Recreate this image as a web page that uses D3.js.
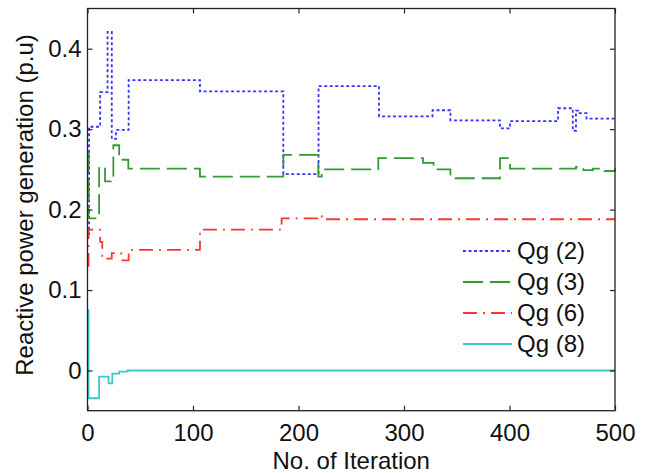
<!DOCTYPE html>
<html>
<head>
<meta charset="utf-8">
<script src="https://cdn.jsdelivr.net/npm/d3@7"></script>
<style>
  html, body { margin: 0; padding: 0; background: #fff; }
  svg { display: block; }
  text { font-family: "Liberation Sans", Arial, sans-serif; fill: #111; }
</style>
</head>
<body>
<svg id="chart" width="648" height="473"></svg>
<script>
// ---- data ----
const seriesNames = ["Qg (2)", "Qg (3)", "Qg (6)", "Qg (8)"];

const qg2Iter = [0, 1.5, 12, 19, 23, 27, 39, 106.6, 185.6, 219, 276.3, 327, 344, 391, 400.5, 446, 460, 463, 465, 473, 500];
const qg2Val  = [0.17, 0.303, 0.346, 0.421, 0.288, 0.299, 0.361, 0.347, 0.244, 0.3535, 0.316, 0.3235, 0.311, 0.301, 0.310, 0.326, 0.298, 0.323, 0.320, 0.313, 0.313];

const qg3Iter = [0, 1, 11, 16.6, 22, 24.5, 30, 38.7, 106.6, 185.6, 218.8, 222, 275.6, 318, 328, 344, 391, 400.5, 463, 470, 479, 490, 500];
const qg3Val  = [0.27, 0.189, 0.253, 0.235, 0.241, 0.280, 0.262, 0.251, 0.241, 0.268, 0.241, 0.250, 0.264, 0.258, 0.250, 0.239, 0.264, 0.251, 0.253, 0.249, 0.251, 0.248, 0.251];

const qg6Iter = [0, 1, 12, 14, 23, 32, 39, 106.6, 184, 218, 222, 500];
const qg6Val  = [0.13, 0.175, 0.160, 0.139, 0.146, 0.137, 0.150, 0.175, 0.189, 0.192, 0.188, 0.188];

const qg8Iter = [0, 1, 11, 20, 23.5, 30, 38, 500];
const qg8Val  = [0.075, -0.0345, -0.0077, -0.016, -0.004, -0.0015, 0.0, 0.0];

const xTicks = [0, 100, 200, 300, 400, 500];
const yTicks = [0, 0.1, 0.2, 0.3, 0.4];
const yTickLabels = ["0", "0.1", "0.2", "0.3", "0.4"];

const xTitle = "No. of Iteration";
const yTitle = "Reactive power generation (p.u)";

// ---- layout / style ----
const mLeft = 87.5, mRight = 615, mTop = 8.5, mBottom = 410.7;
const styles = [
  { color: "#3535ff", dash: "3,2.5", width: 1.8 },
  { color: "#359a35", dash: "20,7",  width: 1.8 },
  { color: "#ff3535", dash: "14,6,2,6", width: 1.8 },
  { color: "#3cc8c8", dash: null,   width: 1.8 }
];

const svg = d3.select("#chart");
const x = d3.scaleLinear().domain([0, 500]).range([mLeft, mRight]);
const y = d3.scaleLinear().domain([-0.05, 0.45]).range([mBottom, mTop]);

const series = [
  { name: seriesNames[0], it: qg2Iter, v: qg2Val },
  { name: seriesNames[1], it: qg3Iter, v: qg3Val },
  { name: seriesNames[2], it: qg6Iter, v: qg6Val },
  { name: seriesNames[3], it: qg8Iter, v: qg8Val }
];

const line = d3.line().x(d => x(d[0])).y(d => y(d[1])).curve(d3.curveStepAfter);

const plot = svg.append("g");
series.forEach((s, i) => {
  const pts = s.it.map((t, j) => [t, s.v[j]]);
  plot.append("path")
    .datum(pts)
    .attr("d", line)
    .attr("fill", "none")
    .attr("stroke", styles[i].color)
    .attr("stroke-width", styles[i].width)
    .attr("stroke-dasharray", styles[i].dash)
    .attr("stroke-linejoin", "miter");
});

// ---- axes (inward ticks on all four sides) ----
const tickLen = 5;
const fmtY = d => yTickLabels[yTicks.indexOf(d)];

const gB = svg.append("g").attr("transform", `translate(0,${mBottom})`)
  .call(d3.axisBottom(x).tickValues(xTicks).tickSize(-tickLen).tickPadding(13).tickFormat(d3.format("d")));
const gT = svg.append("g").attr("transform", `translate(0,${mTop})`)
  .call(d3.axisTop(x).tickValues(xTicks).tickSize(-tickLen).tickFormat(""));
const gL = svg.append("g").attr("transform", `translate(${mLeft},0)`)
  .call(d3.axisLeft(y).tickValues(yTicks).tickSize(-tickLen).tickPadding(6).tickFormat(fmtY));
const gR = svg.append("g").attr("transform", `translate(${mRight},0)`)
  .call(d3.axisRight(y).tickValues(yTicks).tickSize(-tickLen).tickFormat(""));

[gB, gT, gL, gR].forEach(g => {
  g.select(".domain").remove();
  g.selectAll(".tick line").attr("stroke", "#222").attr("stroke-width", 1.2);
  g.selectAll("text").attr("font-size", 24).attr("font-family", "Liberation Sans, Arial, sans-serif").attr("fill", "#111");
});

// box
svg.append("rect")
  .attr("x", mLeft).attr("y", mTop)
  .attr("width", mRight - mLeft).attr("height", mBottom - mTop)
  .attr("fill", "none").attr("stroke", "#222").attr("stroke-width", 1.3);

// titles
svg.append("text")
  .attr("x", (mLeft + mRight) / 2).attr("y", 469)
  .attr("text-anchor", "middle").attr("font-size", 24)
  .text(xTitle);
svg.append("text")
  .attr("transform", `translate(33,205) rotate(-90)`)
  .attr("text-anchor", "middle").attr("font-size", 24)
  .text(yTitle);

// legend
const legX0 = 463, legX1 = 512, legTx = 517, legY0 = 251, legDy = 31;
series.forEach((s, i) => {
  const yy = legY0 + i * legDy;
  svg.append("line")
    .attr("x1", legX0).attr("x2", legX1).attr("y1", yy).attr("y2", yy)
    .attr("stroke", styles[i].color).attr("stroke-width", styles[i].width)
    .attr("stroke-dasharray", styles[i].dash);
  svg.append("text")
    .attr("x", legTx).attr("y", yy + 8)
    .attr("font-size", 24)
    .text(s.name);
});
</script>
</body>
</html>
